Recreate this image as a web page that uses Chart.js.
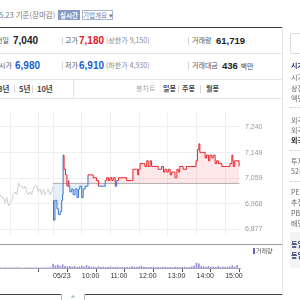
<!DOCTYPE html>
<html lang="ko">
<head>
  <meta charset="UTF-8" />
  <title>시세 차트</title>
  <script src="https://cdn.jsdelivr.net/npm/chart.js"></script>
  <style>
    * { margin: 0; padding: 0; box-sizing: border-box; }
    body {
      width: 300px; height: 300px; overflow: hidden; position: relative;
      background: #fff; color: #333;
      font-family: "Liberation Sans", "Noto Sans CJK KR", sans-serif;
    }
    .t { position: absolute; white-space: nowrap; line-height: 1; }
    .k { font-family: "Noto Sans CJK KR", sans-serif; font-size: 7px; color: #555; }
    .num { font-weight: bold; font-size: 10px; color: #222; }
    .red { color: #e3161c; }
    .blue { color: #1a5fd0; }
    .sub { font-family: "Noto Sans CJK KR", sans-serif; font-size: 7px; color: #888; }
    .hline { position: absolute; left: 0; width: 283px; height: 1px; background: #e6e6e6; }
    .vbar { position: absolute; width: 1px; height: 8px; background: #d6d6d6; }
    canvas { position: absolute; left: 0; }
    .side { position: absolute; left: 291px; font-family: "Noto Sans CJK KR", sans-serif; font-size: 7px; color: #666; white-space: nowrap; line-height: 1; }
  </style>
</head>
<body>

<!-- top strip -->
<div class="t sub" style="left:-1px; top:11px; font-size:7.5px; color:#777;">5.23 기준(장마감)</div>
<div class="t" style="left:58px; top:10px; width:22px; height:10px; background:#8899c4; color:#fff; font-family:'Noto Sans CJK KR'; font-size:6.5px; font-weight:bold; text-align:center; line-height:10px;">실시간</div>
<div class="t" style="left:82px; top:10px; width:31px; height:10px; border:1px solid #aab4d2; color:#6b7aa6; font-family:'Noto Sans CJK KR'; font-size:6.5px; text-align:center; line-height:8px;">기업개요 ▾</div>

<div class="hline" style="top:27px; background:#3a3a3a;"></div>

<!-- row 1 -->
<div class="t k" style="left:-4px; top:37px;">전일</div>
<div class="t num" style="left:13px; top:36px;">7,040</div>
<div class="vbar" style="left:62px; top:37px;"></div>
<div class="t k" style="left:65px; top:37px;">고가</div>
<div class="t num red" style="left:79px; top:36px;">7,180</div>
<div class="t sub" style="left:106px; top:37px;">(상한가 9,150)</div>
<div class="vbar" style="left:188px; top:37px;"></div>
<div class="t k" style="left:192px; top:37px;">거래량</div>
<div class="t num" style="left:216px; top:36px; font-size:9.5px;">61,719</div>

<div class="hline" style="top:53px;"></div>

<!-- row 2 -->
<div class="t k" style="left:-1px; top:62px;">시가</div>
<div class="t num blue" style="left:15px; top:61px;">6,980</div>
<div class="vbar" style="left:62px; top:62px;"></div>
<div class="t k" style="left:65px; top:62px;">저가</div>
<div class="t num blue" style="left:79px; top:61px;">6,910</div>
<div class="t sub" style="left:106px; top:62px;">(하한가 4,930)</div>
<div class="vbar" style="left:188px; top:62px;"></div>
<div class="t k" style="left:192px; top:62px;">거래대금</div>
<div class="t num" style="left:222px; top:61px; font-size:9.5px;">436 <span style="font-weight:normal; font-family:'Noto Sans CJK KR'; font-size:7px; color:#444;">백만</span></div>

<div class="hline" style="top:79px;"></div>

<!-- row 3 tabs -->
<div class="t k" style="left:-2px; top:85px; font-weight:bold; color:#444; font-size:7.5px;">3년</div>
<div class="vbar" style="left:14px; top:85px;"></div>
<div class="t k" style="left:19px; top:85px; font-weight:bold; color:#444; font-size:7.5px;">5년</div>
<div class="vbar" style="left:32px; top:85px;"></div>
<div class="t k" style="left:37px; top:85px; font-weight:bold; color:#444; font-size:7.5px;">10년</div>
<div style="position:absolute; left:73px; top:79px; width:1px; height:20px; background:#e0e0e0;"></div>
<div class="t k" style="left:136px; top:85px; color:#aaa;">봉차트</div>
<div class="t k" style="left:163px; top:85px; color:#444; font-weight:bold;">일봉</div>
<div class="vbar" style="left:178px; top:85px;"></div>
<div class="t k" style="left:182px; top:85px; color:#444; font-weight:bold;">주봉</div>
<div class="vbar" style="left:200px; top:85px;"></div>
<div class="t k" style="left:206px; top:85px; color:#444; font-weight:bold;">월봉</div>

<div class="hline" style="top:98px;"></div>

<!-- charts -->
<canvas id="priceChart" width="282" height="141" style="top:103px;"></canvas>
<div class="hline" style="top:244px; background:#9a9a9a;"></div>
<canvas id="volChart" width="282" height="40" style="top:245px;"></canvas>
<div style="position:absolute; left:253px; top:248px; width:2px; height:6px; background:#6c5fc0;"></div>
<div class="t k" style="left:256px; top:248px; font-size:6px; color:#555;">거래량</div>

<!-- bottom -->
<div class="hline" style="top:294px; background:#444;"></div>
<div style="position:absolute; left:61px; top:294px; width:24px; height:8px; border:1px solid #bbb; border-top:none; background:#fff; text-align:center; font-size:7px; line-height:7px; color:#555;">^</div>

<!-- right column -->
<div style="position:absolute; left:282px; top:27px; width:1px; height:268px; background:#e3e3e3;"></div>
<div style="position:absolute; left:290px; top:33px; width:20px; height:21px; border:1px solid #dcdcdc; border-radius:2px;"></div>
<div class="side" style="top:62px; font-weight:bold; color:#1d2a55;">시가총액</div>
<div class="side" style="top:74px;">시가총액순위</div>
<div class="side" style="top:85px;">상장주식수</div>
<div class="side" style="top:95px;">액면가</div>
<div style="position:absolute; left:290px; top:107px; width:10px; border-top:1px dotted #ccc;"></div>
<div class="side" style="top:117px;">외국인한도주식수</div>
<div class="side" style="top:127px;">외국인보유주식수</div>
<div class="side" style="top:137px; font-weight:bold; color:#222;">외국인소진율</div>
<div style="position:absolute; left:290px; top:150px; width:10px; border-top:1px dotted #ccc;"></div>
<div class="side" style="top:158px;">투자의견</div>
<div class="side" style="top:168px;">52주최고</div>
<div style="position:absolute; left:290px; top:181px; width:10px; border-top:1px dotted #ccc;"></div>
<div class="side" style="top:189px;">PER</div>
<div class="side" style="top:199px;">추정PER</div>
<div class="side" style="top:210px;">PBR</div>
<div class="side" style="top:220px;">배당수익률</div>
<div style="position:absolute; left:290px; top:232px; width:12px; height:36px; background:#f4f4f4;"></div>
<div class="side" style="top:241px; font-weight:bold; color:#2b3a66;">동일업종 PER</div>
<div class="side" style="top:252px; font-weight:bold; color:#2b3a66;">동일업종 등락률</div>

<script>
  // 전일 (minutes before today's 09:00 open, trading-time axis)
  const prevTimes  = [-111, -107, -104, -100, -97, -93, -90, -86, -83, -79, -76, -72, -69, -65, -62, -58, -55, -52, -48, -45, -41, -38, -34, -31, -27, -24, -20, -17, -13, -10, -6, -3, 0];
  const prevPrices = [7000, 6990, 6990, 6970, 6990, 6960, 6970, 6980, 7000, 7010, 7000, 7040, 7030, 7030, 7020, 7030, 7010, 7000, 7010, 7000, 7020, 7030, 7030, 7010, 7020, 7000, 7020, 7000, 7010, 7020, 7000, 7010, 7030];

  // 05/23 (minutes after 09:00)
  const todayTimes  = [0, 1, 4, 8, 11, 15, 18, 20, 21, 23, 26, 29, 32, 33, 35, 39, 42, 46, 50, 53, 56, 60, 63, 67, 72, 73, 77, 81, 84, 88, 91, 95, 98, 105, 109, 112, 116, 119, 123, 126, 130, 133, 137, 140, 147, 154, 165, 167, 175, 177, 179, 182, 189, 192, 196, 199, 203, 206, 213, 220, 224, 227, 231, 234, 238, 241, 245, 248, 255, 259, 262, 265, 272, 279, 286, 297, 299, 302, 305, 307, 311, 314, 318, 321, 325, 328, 332, 335, 339, 342, 346, 349, 353, 360, 366, 370, 374, 376, 377, 380, 385, 389];
  const todayPrices = [6980, 6910, 6980, 6950, 6930, 6940, 6980, 7000, 7140, 7090, 7070, 7030, 7050, 7030, 7010, 7020, 7000, 7020, 6990, 7020, 7030, 6990, 7020, 7030, 7030, 7070, 7070, 7070, 7060, 7060, 7050, 7030, 7030, 7030, 7050, 7060, 7050, 7060, 7050, 7060, 7030, 7050, 7060, 7060, 7060, 7050, 7050, 7090, 7090, 7070, 7090, 7110, 7110, 7100, 7120, 7100, 7120, 7100, 7100, 7090, 7090, 7100, 7080, 7090, 7080, 7090, 7070, 7080, 7060, 7090, 7080, 7100, 7090, 7100, 7100, 7100, 7120, 7160, 7180, 7150, 7150, 7150, 7130, 7140, 7120, 7140, 7130, 7140, 7110, 7120, 7110, 7110, 7100, 7100, 7100, 7110, 7140, 7120, 7100, 7120, 7120, 7100];

  const prevClose = 7040;
  const closeTime = 390;
  const priceTicks = [6877, 6968, 7059, 7149, 7240];
  const gridTimes  = [-90, -30, 0, 60, 120, 180, 240, 300, 360];
  const labelTimes = [0, 60, 120, 180, 240, 300, 360];
  const timeLabels = ['05/23', '10:00', '11:00', '12:00', '13:00', '14:00', '15:00'];

  // 거래량, 5분 단위
  const prevVolTimes  = [-110, -105, -100, -95, -90, -85, -80, -75, -70, -65, -60, -55, -50, -45, -40, -35, -30, -25, -20, -15, -10, -5];
  const prevVolumes   = [300, 200, 400, 200, 300, 250, 200, 400, 300, 200, 300, 200, 250, 300, 200, 400, 300, 200, 300, 400, 300, 500];
  const volTimes = [0, 5, 10, 15, 20, 25, 30, 35, 40, 45, 50, 55, 60, 65, 70, 75, 80, 85, 90, 95, 100, 105, 110, 115, 120, 125, 130, 135, 140, 145, 150, 155, 160, 165, 170, 175, 180, 185, 190, 195, 200, 205, 210, 215, 220, 225, 230, 235, 240, 245, 250, 255, 260, 265, 270, 275, 280, 285, 290, 295, 300, 305, 310, 315, 320, 325, 330, 335, 340, 345, 350, 355, 360, 365, 370, 375, 380, 385];
  const volumes  = [1500, 900, 1100, 600, 1300, 700, 500, 600, 400, 700, 300, 500, 800, 400, 1000, 600, 300, 400, 200, 500, 300, 400, 200, 300, 500, 200, 300, 400, 200, 300, 200, 300, 200, 600, 400, 300, 500, 700, 400, 300, 200, 300, 400, 200, 300, 200, 400, 300, 200, 300, 200, 400, 300, 200, 300, 400, 200, 300, 500, 800, 2000, 1600, 700, 500, 400, 600, 300, 400, 300, 600, 300, 400, 300, 400, 500, 900, 400, 1000];

  const xMin = -111, xMax = 391;
  const yMin = 6858, yMax = 7292;
  const volMax = 9000;

  const RED = '#e8232b', BLUE = '#3473d4';
  Chart.defaults.font.family = '"Liberation Sans", Arial, sans-serif';

  const pts = (xs, ys) => xs.map((x, i) => ({ x, y: ys[i] }));

  new Chart(document.getElementById('priceChart'), {
    type: 'line',
    data: {
      datasets: [
        {
          data: pts(todayTimes, todayPrices),
          borderColor: RED,
          borderWidth: 1,
          pointRadius: 0,
          stepped: true,
          fill: { target: { value: prevClose }, above: 'rgba(240,70,80,0.13)', below: 'rgba(60,120,210,0.13)' },
          segment: { borderColor: c => c.p0.parsed.y < prevClose ? BLUE : RED }
        },
        {
          data: pts([0, closeTime], [prevClose, prevClose]),
          borderColor: '#b0b0b0',
          borderWidth: 1,
          pointRadius: 0
        },
        {
          data: pts(prevTimes, prevPrices),
          borderColor: '#cdcdcd',
          borderWidth: 1,
          pointRadius: 0
        }
      ]
    },
    options: {
      responsive: false,
      animation: false,
      layout: { padding: 0 },
      plugins: { legend: { display: false }, tooltip: { enabled: false } },
      scales: {
        x: {
          type: 'linear', min: xMin, max: xMax,
          afterBuildTicks: s => { s.ticks = gridTimes.map(v => ({ value: v })); },
          afterFit: s => { s.height = 0; },
          ticks: { display: false },
          grid: { color: '#efefef', drawTicks: false },
          border: { display: false }
        },
        y: {
          position: 'right', min: yMin, max: yMax,
          afterBuildTicks: s => { s.ticks = priceTicks.map(v => ({ value: v })); },
          afterFit: s => { s.width = 42; },
          ticks: { color: '#999', font: { size: 7 }, padding: 5, callback: v => v.toLocaleString('en-US') },
          grid: { color: '#efefef', drawTicks: false },
          border: { display: false }
        }
      }
    }
  });

  new Chart(document.getElementById('volChart'), {
    type: 'bar',
    data: {
      datasets: [
        { data: pts(volTimes, volumes), backgroundColor: '#9b90d2', barThickness: 1, grouped: false },
        { data: pts(prevVolTimes, prevVolumes), backgroundColor: '#cbc7de', barThickness: 1, grouped: false }
      ]
    },
    options: {
      responsive: false,
      animation: false,
      layout: { padding: { right: 42, top: 0, left: 0, bottom: 0 } },
      plugins: { legend: { display: false }, tooltip: { enabled: false } },
      scales: {
        x: {
          type: 'linear', min: xMin, max: xMax, offset: false,
          afterBuildTicks: s => { s.ticks = labelTimes.map(v => ({ value: v })); },
          afterFit: s => { s.height = 17; },
          ticks: {
            color: '#333', font: { size: 7 }, padding: 0, align: 'start',
            maxRotation: 0, autoSkip: false,
            callback: v => timeLabels[labelTimes.indexOf(v)]
          },
          grid: { drawOnChartArea: false, tickLength: 4, color: '#555' },
          border: { color: '#a9a6c4' }
        },
        y: { display: false, min: 0, max: volMax }
      }
    }
  });
</script>
</body>
</html>
